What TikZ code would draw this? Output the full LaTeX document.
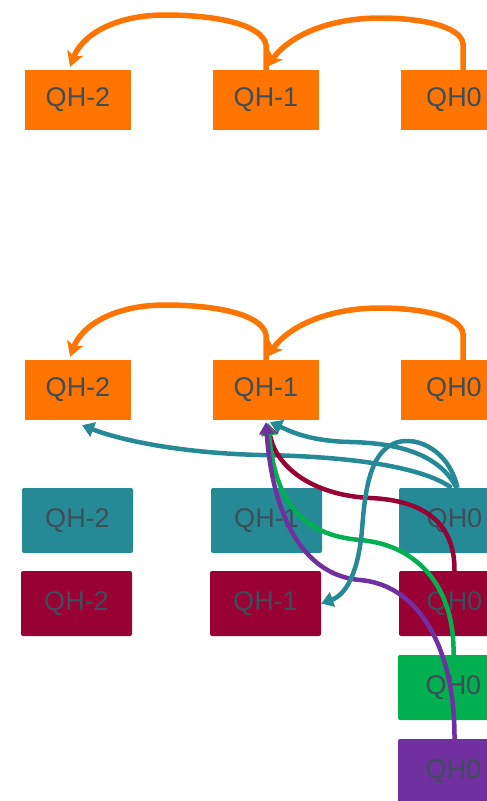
\documentclass[tikz,border=0pt]{standalone}
\usepackage{fontspec}
\setmainfont{Liberation Sans}
\usetikzlibrary{arrows.meta}
\definecolor{qorange}{HTML}{FF7500}
\definecolor{qteal}{HTML}{258A96}
\definecolor{qred}{HTML}{990033}
\definecolor{qgreen}{HTML}{00B050}
\definecolor{qpurple}{HTML}{7030A0}
\definecolor{qtext}{HTML}{3E4E58}
\tikzset{
  qbox/.style={minimum width=106pt,minimum height=60pt,inner sep=0pt,
    text=qtext,font=\fontsize{27}{32}\selectfont},
  rbox/.style={qbox,minimum width=111pt,minimum height=65pt,rounded corners=2pt},
  olink/.style={qorange,line width=5.5pt,-{Stealth[length=15pt,width=17pt,inset=4pt]}},
  clink/.style={line width=4.5pt,-{Triangle[length=12pt,width=15pt]}}
}
\begin{document}
\begin{tikzpicture}[x=1pt,y=-1pt]
  \useasboundingbox (0,0) rectangle (487,801);
  % first queue
  \node[qbox,fill=qorange] (oa2) at (78,100) {QH-2};
  \node[qbox,fill=qorange] (oa1) at (266,100) {QH-1};
  \node[qbox,fill=qorange] (oa0) at (454,100) {QH0};
  \draw[olink] (oa1.north) -- ++(0,-25) .. controls (262,24) and (215,15) .. (165,15)
    .. controls (115,15) and (82,35) .. ([xshift=-8pt,yshift=3pt]oa2.north);
  \draw[olink] ([xshift=9pt]oa0.north) -- ++(0,-26) .. controls (461,26) and (420,18) .. (380,18)
    .. controls (330,18) and (290,35) .. ([xshift=1pt,yshift=3pt]oa1.north);
  % second queue
  \node[qbox,fill=qorange] (ob2) at (78,390) {QH-2};
  \node[qbox,fill=qorange] (ob1) at (266,390) {QH-1};
  \node[qbox,fill=qorange] (ob0) at (454,390) {QH0};
  \draw[olink] (ob1.north) -- ++(0,-25) .. controls (262,314) and (215,305) .. (165,305)
    .. controls (115,305) and (82,325) .. ([xshift=-8pt,yshift=3pt]ob2.north);
  \draw[olink] ([xshift=9pt]ob0.north) -- ++(0,-26) .. controls (461,316) and (420,308) .. (380,308)
    .. controls (330,308) and (290,325) .. ([xshift=1pt,yshift=3pt]ob1.north);
  \node[rbox,fill=qteal] (t2) at (77.5,520.5) {QH-2};
  \node[rbox,fill=qteal] (t1) at (266.5,520.5) {QH-1};
  \node[rbox,fill=qteal] (t0) at (454.5,520.5) {QH0};
  \node[rbox,fill=qred] (c2) at (76.5,603.5) {QH-2};
  \node[rbox,fill=qred] (c1) at (265.5,603.5) {QH-1};
  \node[rbox,fill=qred] (c0) at (454.5,603.5) {QH0};
  \node[rbox,fill=qgreen] (g0) at (453.5,687.5) {QH0};
  \node[rbox,fill=qpurple] (p0) at (453.5,771.5) {QH0};
  % links
  \draw[clink,qteal] ([xshift=-3pt]t0.north) .. controls (420,465) and (340,456) .. (260,455)
    .. controls (180,453) and (120,440) .. ([xshift=4pt,yshift=-5pt]ob2.south);
  \draw[clink,qteal] ([xshift=2pt]t0.north) .. controls (440,455) and (400,443) .. (350,442)
    .. controls (310,441) and (292,432) .. ([xshift=4pt,yshift=-2pt]ob1.south);
  \draw[clink,qred] (c0.north) .. controls (455,520) and (420,500) .. (370,498)
    .. controls (310,495) and (275,465) .. ([xshift=2pt,yshift=-3pt]ob1.south);
  \draw[clink,qgreen] (g0.north) .. controls (455,590) and (420,545) .. (360,540)
    .. controls (300,535) and (275,500) .. ([xshift=2pt,yshift=-3pt]ob1.south);
  \draw[clink,qpurple] ([xshift=1pt]p0.north) .. controls (455,650) and (420,585) .. (360,580)
    .. controls (300,575) and (272,510) .. ([yshift=-2pt]ob1.south);
  \draw[clink,qteal] ([xshift=3pt]t0.north) .. controls (450,455) and (425,440) .. (405,441)
    .. controls (370,443) and (365,490) .. (362,530) .. controls (358,575) and (345,595) .. (c1.east);
\end{tikzpicture}
\end{document}
